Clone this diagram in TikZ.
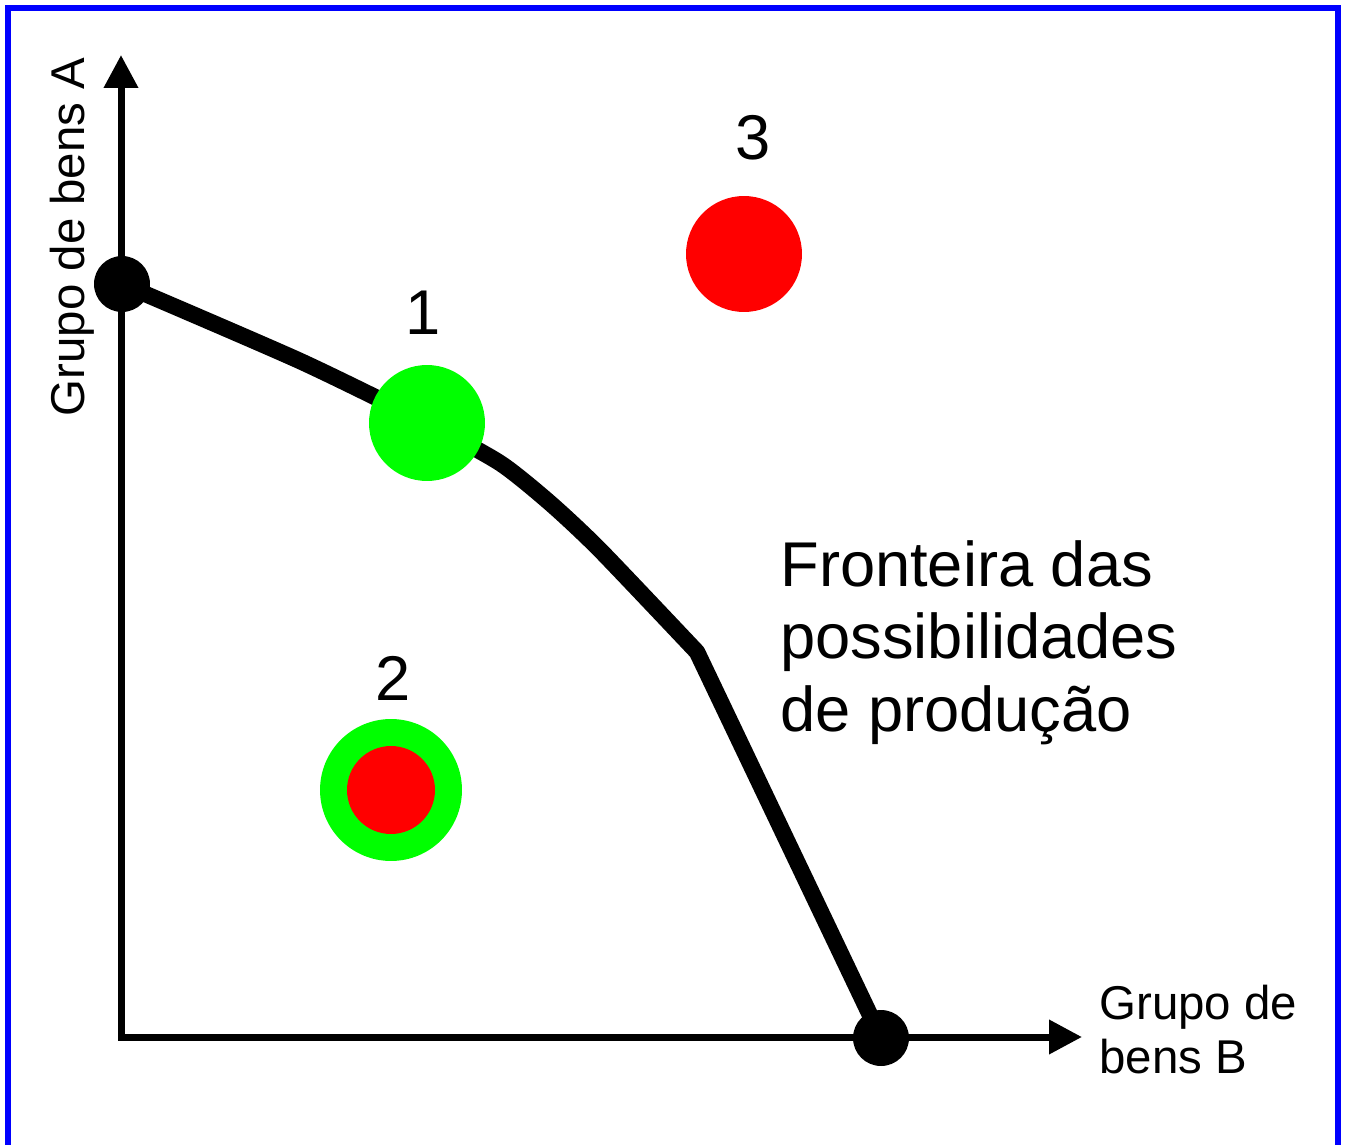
\documentclass[tikz,border=0pt]{standalone}
\usepackage{fontspec}
\setmainfont{Liberation Sans}
\usepackage{xcolor}
\definecolor{colorFrame}{RGB}{0,0,255}
\definecolor{colorGood}{RGB}{0,255,0}
\definecolor{colorBad}{RGB}{255,0,0}
\usetikzlibrary{arrows.meta, positioning}
\tikzset{
  endpoint/.style={circle, fill=black, inner sep=0pt, minimum size=1.12cm},
  good/.style={circle, fill=colorGood, inner sep=0pt, minimum size=2.32cm},
  bad/.style={circle, fill=colorBad, inner sep=0pt, minimum size=2.32cm},
  numlabel/.style={inner sep=0pt, anchor=base, font=\fontsize{36}{41}\selectfont},
  axislabel/.style={inner sep=0pt, font=\fontsize{27}{30.7}\selectfont}
}

\begin{document}
\begin{tikzpicture}[x=0.02cm, y=-0.02cm, >={Triangle[length=0.66cm, width=0.66cm]},
  axis/.style={line width=0.14cm, line join=miter},
  frontier/.style={line width=0.33cm, line join=round}]
\useasboundingbox (0,0) rectangle (1346,1145);
\clip (0,0) rectangle (1346,1145);
\draw[colorFrame, line width=0.12cm] (8,8.5) rectangle (1338,1250);
% axes
\coordinate (orig) at (121,1037);
\coordinate (ytip) at (121,55);
\coordinate (xtip) at (1082,1037);
\draw[axis, <->] (ytip) -- (orig) -- (xtip);
\node[axislabel, rotate=90, anchor=base] (ylab) at (84,237) {Grupo de bens A};
\node[axislabel, anchor=north west, align=left] (xlab) at (1099,985) {Grupo de\\bens B};
% frontier
\coordinate (c1) at (427,423);
\coordinate (qA) at (122,284);
\coordinate (qB) at (881,1038);
\draw[frontier] plot[smooth, tension=0.4] coordinates {(qA) (300,361) (c1) (500,463) (550,503) (600,550) (697,652)} -- (qB);
\node[endpoint] (eA) at (qA) {};
\node[endpoint] (eB) at (qB) {};
\node[font=\fontsize{36}{41.4}\selectfont, inner sep=0pt, anchor=north west, align=left] (flab) at (780,540) {Fronteira das\\possibilidades\\de produção};
% points
\node[good] (p1) at (c1) {};
\node[numlabel] (l1) at (423,335) {1};
\node[circle, fill=colorGood, inner sep=0pt, minimum size=2.84cm] (p2) at (391,790) {};
\node[circle, fill=colorBad, inner sep=0pt, minimum size=1.76cm] (p2in) at (p2) {};
\node[numlabel] (l2) at (393,700) {2};
\node[bad] (p3) at (744,254) {};
\node[numlabel] (l3) at (753,160) {3};
\end{tikzpicture}
\end{document}
